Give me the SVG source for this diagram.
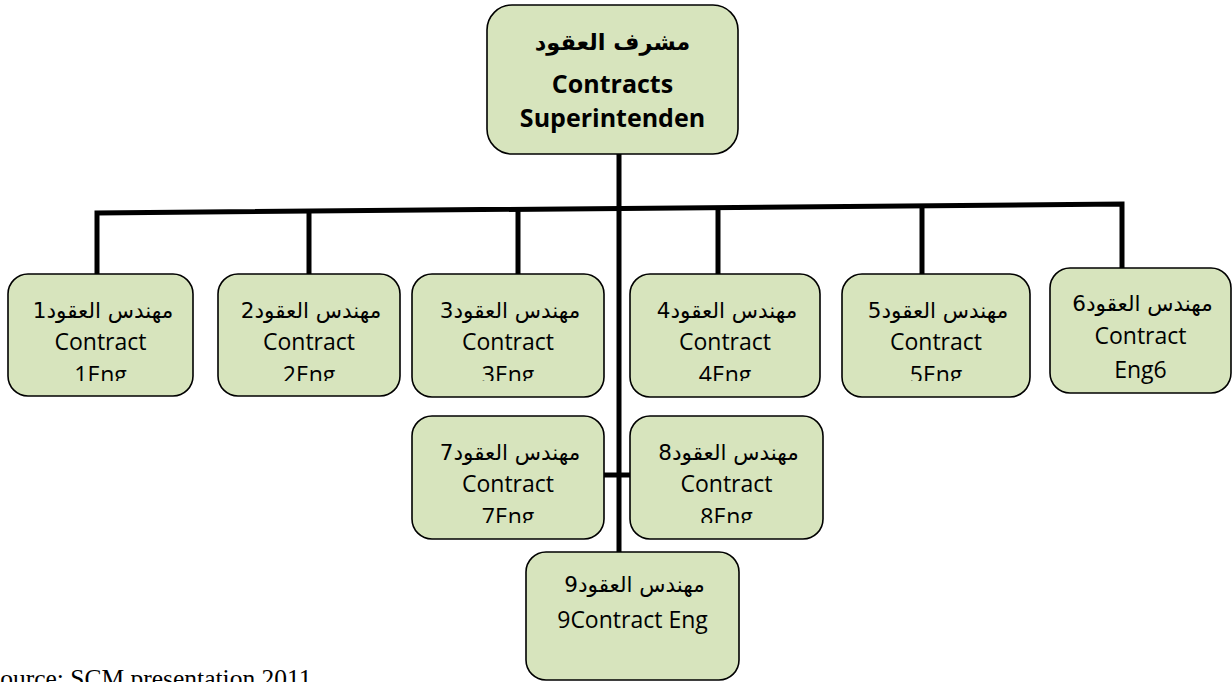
<svg xmlns="http://www.w3.org/2000/svg" width="1232" height="682" viewBox="0 0 1232 682">
  <defs>
    <style>
      .box { fill: #d7e4bd; stroke: #000; stroke-width: 1.6; }
      .ar { font-family: "DejaVu Sans", sans-serif; font-size: 21.5px; fill: #000; text-anchor: middle; }
      .en { font-family: "Open Sans", "Liberation Sans", sans-serif; font-size: 23px; fill: #000; text-anchor: middle; }
      .hd-ar { font-family: "DejaVu Sans", sans-serif; font-size: 22.5px; font-weight: bold; fill: #000; text-anchor: middle; }
      .hd-en { font-family: "Open Sans", "Liberation Sans", sans-serif; font-size: 25px; font-weight: bold; fill: #000; text-anchor: middle; }
      .link { fill: none; stroke: #000; stroke-width: 5; stroke-linejoin: miter; }
      .src { font-family: "Liberation Serif", serif; font-size: 25.5px; fill: #000; }
    </style>
    <!-- third text lines are cut at the lower text frame edge -->
    <clipPath id="cut1"><rect x="0" y="0" width="1232" height="381"/></clipPath>
    <clipPath id="cut2"><rect x="0" y="0" width="1232" height="523"/></clipPath>
  </defs>

  <g id="connectors">
    <line class="link" x1="619" y1="154" x2="619" y2="552"/>
    <path class="link" d="M97,274 L97,213 L1122,204 L1122,268"/>
    <line class="link" x1="309" y1="211" x2="309" y2="274"/>
    <line class="link" x1="518" y1="209.3" x2="518" y2="274"/>
    <line class="link" x1="718" y1="207.5" x2="718" y2="274"/>
    <line class="link" x1="922" y1="205.8" x2="922" y2="274"/>
    <line class="link" x1="604" y1="475" x2="630" y2="475"/>
  </g>

  <g id="superintendent">
    <rect class="box" x="487" y="5" width="251" height="149" rx="25"/>
    <text class="hd-ar" x="612.5" y="50">مشرف العقود</text>
    <text class="hd-en" x="612.5" y="93">Contracts</text>
    <text class="hd-en" x="612.5" y="127">Superintenden</text>
  </g>

  <g id="eng1">
    <rect class="box" x="8" y="274" width="185" height="122" rx="20"/>
    <text class="ar" x="103" y="318">مهندس العقود1</text>
    <text class="en" x="100.5" y="350">Contract</text>
    <text class="en" x="100.5" y="383" clip-path="url(#cut1)">1Eng</text>
  </g>

  <g id="eng2">
    <rect class="box" x="218" y="274" width="182" height="122" rx="20"/>
    <text class="ar" x="311" y="318">مهندس العقود2</text>
    <text class="en" x="309" y="350">Contract</text>
    <text class="en" x="309" y="383" clip-path="url(#cut1)">2Eng</text>
  </g>

  <g id="eng3">
    <rect class="box" x="412" y="274" width="192" height="123" rx="20"/>
    <text class="ar" x="510" y="318">مهندس العقود3</text>
    <text class="en" x="508" y="350">Contract</text>
    <text class="en" x="508" y="383" clip-path="url(#cut1)">3Eng</text>
  </g>

  <g id="eng4">
    <rect class="box" x="630" y="274" width="190" height="123" rx="20"/>
    <text class="ar" x="727" y="318">مهندس العقود4</text>
    <text class="en" x="725" y="350">Contract</text>
    <text class="en" x="725" y="383" clip-path="url(#cut1)">4Eng</text>
  </g>

  <g id="eng5">
    <rect class="box" x="842" y="274" width="188" height="123" rx="20"/>
    <text class="ar" x="938" y="318">مهندس العقود5</text>
    <text class="en" x="936" y="350">Contract</text>
    <text class="en" x="936" y="383" clip-path="url(#cut1)">5Eng</text>
  </g>

  <g id="eng6">
    <rect class="box" x="1050" y="268" width="181" height="125" rx="20"/>
    <text class="ar" x="1142.5" y="311">مهندس العقود6</text>
    <text class="en" x="1140.5" y="344">Contract</text>
    <text class="en" x="1140.5" y="378">Eng6</text>
  </g>

  <g id="eng7">
    <rect class="box" x="412" y="416" width="192" height="123" rx="20"/>
    <text class="ar" x="510" y="460">مهندس العقود7</text>
    <text class="en" x="508" y="492">Contract</text>
    <text class="en" x="508" y="525" clip-path="url(#cut2)">7Eng</text>
  </g>

  <g id="eng8">
    <rect class="box" x="630" y="416" width="193" height="123" rx="20"/>
    <text class="ar" x="728.5" y="460">مهندس العقود8</text>
    <text class="en" x="726.5" y="492">Contract</text>
    <text class="en" x="726.5" y="525" clip-path="url(#cut2)">8Eng</text>
  </g>

  <g id="eng9">
    <rect class="box" x="526" y="552" width="213" height="128" rx="20"/>
    <text class="ar" x="634.5" y="592">مهندس العقود9</text>
    <text class="en" x="632.5" y="628">9Contract Eng</text>
  </g>

  <text class="src" x="-14" y="687">Source: SCM presentation 2011</text>
</svg>
